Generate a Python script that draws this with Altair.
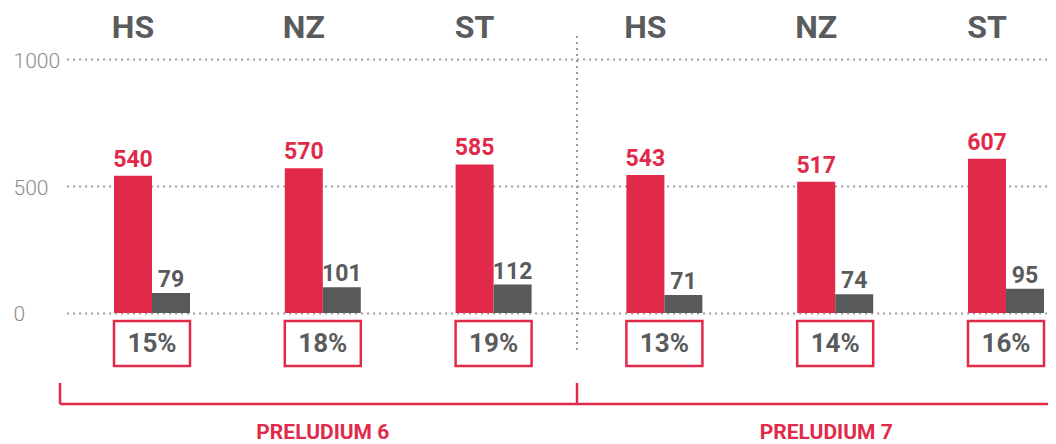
import altair as alt
import pandas as pd

# ---- data ----
programmes = ["PRELUDIUM 6", "PRELUDIUM 6", "PRELUDIUM 6",
              "PRELUDIUM 7", "PRELUDIUM 7", "PRELUDIUM 7"]
panels = ["HS", "NZ", "ST", "HS", "NZ", "ST"]
submitted = [540, 570, 585, 543, 517, 607]
funded = [79, 101, 112, 71, 74, 95]
success = ["15%", "18%", "19%", "13%", "14%", "16%"]
y_ticks = [0, 500, 1000]
series = ["złożone", "zakwalifikowane"]

RED = "#E1294A"
GRAY = "#58595B"
TEXT_GRAY = "#5A5B5D"
GRID = "#9B9B9B"
FONT = "Roboto"

keys = [f"{p} {s}" for p, s in zip(programmes, panels)]

bars_df = pd.DataFrame({
    "key": keys * 2,
    "series": [series[0]] * 6 + [series[1]] * 6,
    "value": submitted + funded,
})
groups_df = pd.DataFrame({
    "key": keys,
    "panel": panels,
    "programme": programmes,
    "success": success,
    "series": [series[0]] * 6,
})

x_enc = alt.X("key:N", sort=keys,
              scale=alt.Scale(domain=keys, range=[6.6, 1031.4],
                              paddingInner=0.555, paddingOuter=0.2775),
              axis=None)
xo_enc = alt.XOffset("series:N",
                     scale=alt.Scale(domain=series, paddingInner=0, paddingOuter=0))
y_enc = alt.Y("value:Q",
              scale=alt.Scale(domain=[-516, 1201], nice=False, zero=False),
              axis=alt.Axis(values=y_ticks, format="d", title=None, domain=False,
                            ticks=False, tickSize=0, labelPadding=47,
                            labelAlign="left", labelBaseline="middle", labelOffset=2,
                            labelFont=FONT, labelFontWeight=300, labelFontSize=21,
                            labelColor="#8C8C8C", grid=True, gridDash=[2, 4],
                            gridColor=GRID, gridWidth=2))

base = alt.Chart(bars_df).encode(x=x_enc, xOffset=xo_enc, y=y_enc)

bars = base.mark_bar().encode(
    color=alt.Color("series:N", scale=alt.Scale(domain=series, range=[RED, GRAY]),
                    legend=None)
)

red_labels = base.mark_text(font=FONT, fontWeight="bold", fontSize=23,
                            baseline="alphabetic", dy=-9, color=RED).encode(
    text="value:Q"
).transform_filter(alt.datum.series == series[0])

gray_labels = base.mark_text(font=FONT, fontWeight="bold", fontSize=23,
                             baseline="alphabetic", dy=-6, color=TEXT_GRAY).encode(
    text="value:Q"
).transform_filter(alt.datum.series == series[1])

headers = alt.Chart(groups_df).mark_text(
    font=FONT, fontWeight="bold", fontSize=32, color=TEXT_GRAY, baseline="middle"
).encode(x=x_enc, xOffset=xo_enc, y=alt.value(20), text="panel:N")

boxes = alt.Chart(groups_df).mark_rect(
    fill="white", stroke=RED, strokeWidth=2.5
).encode(x=x_enc, y=alt.value(313), y2=alt.value(358))

pct = alt.Chart(groups_df).mark_text(
    font=FONT, fontWeight="bold", fontSize=26, color=TEXT_GRAY, baseline="middle"
).encode(x=x_enc, y=alt.value(336), text="success:N")

prog6 = alt.Chart(groups_df).transform_filter(
    (alt.datum.programme == "PRELUDIUM 6") & (alt.datum.panel == "NZ")
).mark_text(font=FONT, fontWeight="bold", fontSize=21, color=RED,
            baseline="middle").encode(
    x=x_enc, y=alt.value(425), text="programme:N")

prog7 = alt.Chart(groups_df).transform_filter(
    (alt.datum.programme == "PRELUDIUM 7") & (alt.datum.panel == "NZ")
).mark_text(font=FONT, fontWeight="bold", fontSize=21, color=RED,
            baseline="middle", dx=-9).encode(
    x=x_enc, y=alt.value(425), text="programme:N")

one = pd.DataFrame({"a": [0]})
separator = alt.Chart(one).mark_rule(color=GRID, strokeDash=[2, 4], strokeWidth=2).encode(
    x=alt.value(517), y=alt.value(28), y2=alt.value(343))
bracket_h = alt.Chart(one).mark_rule(color=RED, strokeWidth=2.5).encode(
    x=alt.value(0), x2=alt.value(988), y=alt.value(396))
bracket_l = alt.Chart(one).mark_rule(color=RED, strokeWidth=2.5).encode(
    x=alt.value(0), y=alt.value(375), y2=alt.value(396))
bracket_m = alt.Chart(one).mark_rule(color=RED, strokeWidth=2.5).encode(
    x=alt.value(517), y=alt.value(375), y2=alt.value(396))

chart = alt.layer(
    separator, bars, red_labels, gray_labels, headers, boxes, pct,
    bracket_h, bracket_l, bracket_m, prog6, prog7
).properties(
    width=988, height=436,
    autosize=alt.AutoSizeParams(type="none"),
    padding={"left": 52, "top": 0, "right": 0, "bottom": 0},
).configure_view(stroke=None)

chart.save("out.html", embed_options={"renderer": "svg", "actions": False})
